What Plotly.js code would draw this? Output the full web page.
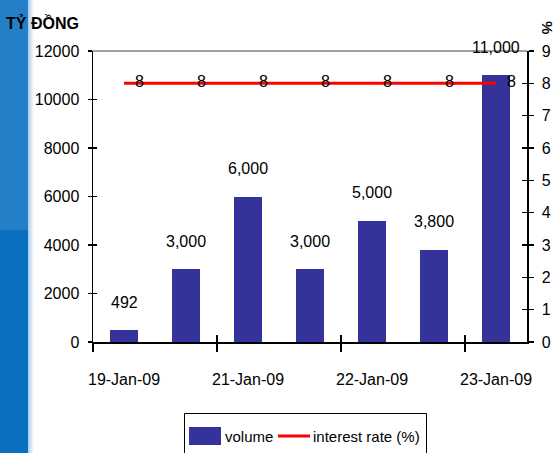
<!DOCTYPE html>
<html>
<head>
<meta charset="utf-8">
<script src="https://cdn.plot.ly/plotly-3.0.1.min.js"></script>
<style>
  html, body { margin:0; padding:0; background:#ffffff; }
  #wrap { position:relative; width:558px; height:453px; overflow:hidden; }
  #stripTop { position:absolute; left:0; top:0; width:28px; height:230px; background:#237fc7; }
  #stripBot { position:absolute; left:0; top:230px; width:28px; height:223px; background:#0a6fbf; }
  #stripEdge { position:absolute; left:28px; top:0; width:6px; height:453px;
     background:linear-gradient(to right, #a9cbe9, #ffffff); }
  #chart { position:absolute; left:0; top:0; width:558px; height:453px; }
</style>
</head>
<body>
<div id="wrap">
  <div id="stripTop"></div><div id="stripBot"></div><div id="stripEdge"></div>
  <div id="chart"></div>
</div>
<script>
// ---- data ----
const categories = ["19-Jan-09", "20-Jan-09", "21-Jan-09", "21-Jan-09", "22-Jan-09", "22-Jan-09", "23-Jan-09"];
const volume = [492, 3000, 6000, 3000, 5000, 3800, 11000];
const volumeLabels = ["492", "3,000", "6,000", "3,000", "5,000", "3,800", "11,000"];
const interestRate = [8, 8, 8, 8, 8, 8, 8];
const shownTickIdx = [0, 2, 4, 6];
const seriesNames = ["volume", "interest rate (%)"];
const leftTitle = "TỶ ĐỒNG";
const rightTitle = "%";

// ---- layout helpers ----
const W = 558, H = 453;
const M = {l: 93, r: 31, t: 51, b: 111};
const PW = W - M.l - M.r, PH = H - M.t - M.b;
const px = x => (x - M.l) / PW;
const py = y => (H - M.b - y) / PH;

const FONT = "'Liberation Sans Narrow', 'Arial Narrow', 'Liberation Sans', Arial, sans-serif";
const FS = 16;
const BLUE = "#333399", RED = "#ff0000";
const idx = categories.map((c, i) => i);

const traces = [
  {type: "bar", x: idx, y: volume, name: seriesNames[0], marker: {color: BLUE},
   width: 0.45, xaxis: "x", yaxis: "y", showlegend: false, hoverinfo: "skip"},
  {type: "scatter", mode: "lines+markers+text", x: idx, y: interestRate, name: seriesNames[1],
   line: {color: RED, width: 3}, marker: {size: 16, color: "rgba(0,0,0,0)"},
   text: interestRate.map(String), textposition: "middle right",
   textfont: {family: FONT, size: FS, color: "#000"}, xaxis: "x", yaxis: "y2",
   showlegend: false, cliponaxis: false, hoverinfo: "skip"},
  // invisible helpers so that overlay axes get drawn
  {type: "scatter", mode: "none", x: [0], y: [0], xaxis: "x2", yaxis: "y3", showlegend: false, hoverinfo: "skip"},
  {type: "scatter", mode: "none", x: [0], y: [0], xaxis: "x3", yaxis: "y4", showlegend: false, hoverinfo: "skip"}
];

const xr = [-0.5, categories.length - 0.5];
const boundaryTicks = [-0.5, 1.5, 3.5, 5.5];
const annotations = volume.map((v, i) => ({
  x: i, y: v, xref: "x", yref: "y", text: volumeLabels[i], showarrow: false,
  yshift: 28, font: {family: FONT, size: FS, color: "#000"}, yanchor: "middle"
}));
annotations.push({x: px(4), y: py(23), xref: "paper", yref: "paper", xanchor: "left", yanchor: "middle",
  text: "<b>" + leftTitle + "</b>", showarrow: false, font: {family: FONT, size: 16, color: "#000"}});
annotations.push({x: px(548), y: py(27), xref: "paper", yref: "paper", xanchor: "center", yanchor: "middle",
  text: "<b>" + rightTitle + "</b>", textangle: 90, showarrow: false, font: {family: FONT, size: 15, color: "#000"}});
// custom legend texts
annotations.push({x: px(223), y: py(436), xref: "paper", yref: "paper", xanchor: "left", yanchor: "middle",
  text: seriesNames[0], showarrow: false, font: {family: FONT, size: 15, color: "#000"}});
annotations.push({x: px(311), y: py(436), xref: "paper", yref: "paper", xanchor: "left", yanchor: "middle",
  text: seriesNames[1], showarrow: false, font: {family: FONT, size: 15, color: "#000"}});

const shapes = [
  // top border of plot area
  {type: "line", xref: "paper", yref: "paper", x0: 0, x1: 1, y0: 1, y1: 1, line: {color: "#808080", width: 1.5}},
  // legend box
  {type: "rect", xref: "paper", yref: "paper", x0: px(184.5), x1: px(426.5), y0: py(413.5), y1: py(470),
   line: {color: "#000", width: 1}, fillcolor: "rgba(0,0,0,0)"},
  {type: "rect", xref: "paper", yref: "paper", x0: px(189), x1: px(221), y0: py(427), y1: py(445),
   line: {width: 0}, fillcolor: BLUE},
  {type: "line", xref: "paper", yref: "paper", x0: px(278), x1: px(310), y0: py(436), y1: py(436),
   line: {color: RED, width: 3}}
];

const axFont = {family: FONT, size: FS, color: "#000"};
const layout = {
  width: W, height: H,
  margin: {l: M.l, r: M.r, t: M.t, b: M.b, autoexpand: false},
  paper_bgcolor: "rgba(0,0,0,0)", plot_bgcolor: "#ffffff",
  showlegend: false, bargap: 0,
  xaxis: {range: xr, tickmode: "array", tickvals: shownTickIdx, ticktext: shownTickIdx.map(i => categories[i]),
    ticks: "", showline: true, linecolor: "#000", linewidth: 1.5, showgrid: false, zeroline: false,
    tickfont: axFont, ticklabelstandoff: 22, fixedrange: true},
  xaxis2: {range: xr, overlaying: "x", side: "bottom", tickmode: "array", tickvals: boundaryTicks,
    ticks: "outside", ticklen: 9, tickcolor: "#000", tickwidth: 1.2, showticklabels: false,
    showline: false, showgrid: false, zeroline: false},
  xaxis3: {range: xr, overlaying: "x", side: "bottom", tickmode: "array", tickvals: boundaryTicks,
    ticks: "inside", ticklen: 7, tickcolor: "#000", tickwidth: 1.2, showticklabels: false,
    showline: false, showgrid: false, zeroline: false},
  yaxis: {range: [0, 12000], dtick: 2000, tick0: 0, tickformat: "d", ticks: "outside", ticklen: 4, tickcolor: "#000", tickwidth: 1.2,
    showline: true, linecolor: "#000", linewidth: 1.5, showgrid: false, zeroline: false,
    tickfont: axFont, ticklabelstandoff: 5, fixedrange: true},
  yaxis3: {range: [0, 12000], dtick: 2000, tick0: 0, overlaying: "y", side: "left", ticks: "inside", ticklen: 4,
    tickcolor: "#000", tickwidth: 1.2, showticklabels: false, showline: false, showgrid: false, zeroline: false},
  yaxis2: {range: [0, 9], dtick: 1, tick0: 0, overlaying: "y", side: "right", ticks: "outside", ticklen: 5,
    tickcolor: "#000", tickwidth: 1.2, showline: true, linecolor: "#000", linewidth: 1.5, showgrid: false,
    zeroline: false, tickfont: axFont, ticklabelstandoff: 5},
  yaxis4: {range: [0, 9], dtick: 1, tick0: 0, overlaying: "y", side: "right", ticks: "inside", ticklen: 5,
    tickcolor: "#000", tickwidth: 1.2, showticklabels: false, showline: false, showgrid: false, zeroline: false},
  annotations: annotations,
  shapes: shapes
};

Plotly.newPlot("chart", traces, layout, {displayModeBar: false, staticPlot: true});
</script>
</body>
</html>
